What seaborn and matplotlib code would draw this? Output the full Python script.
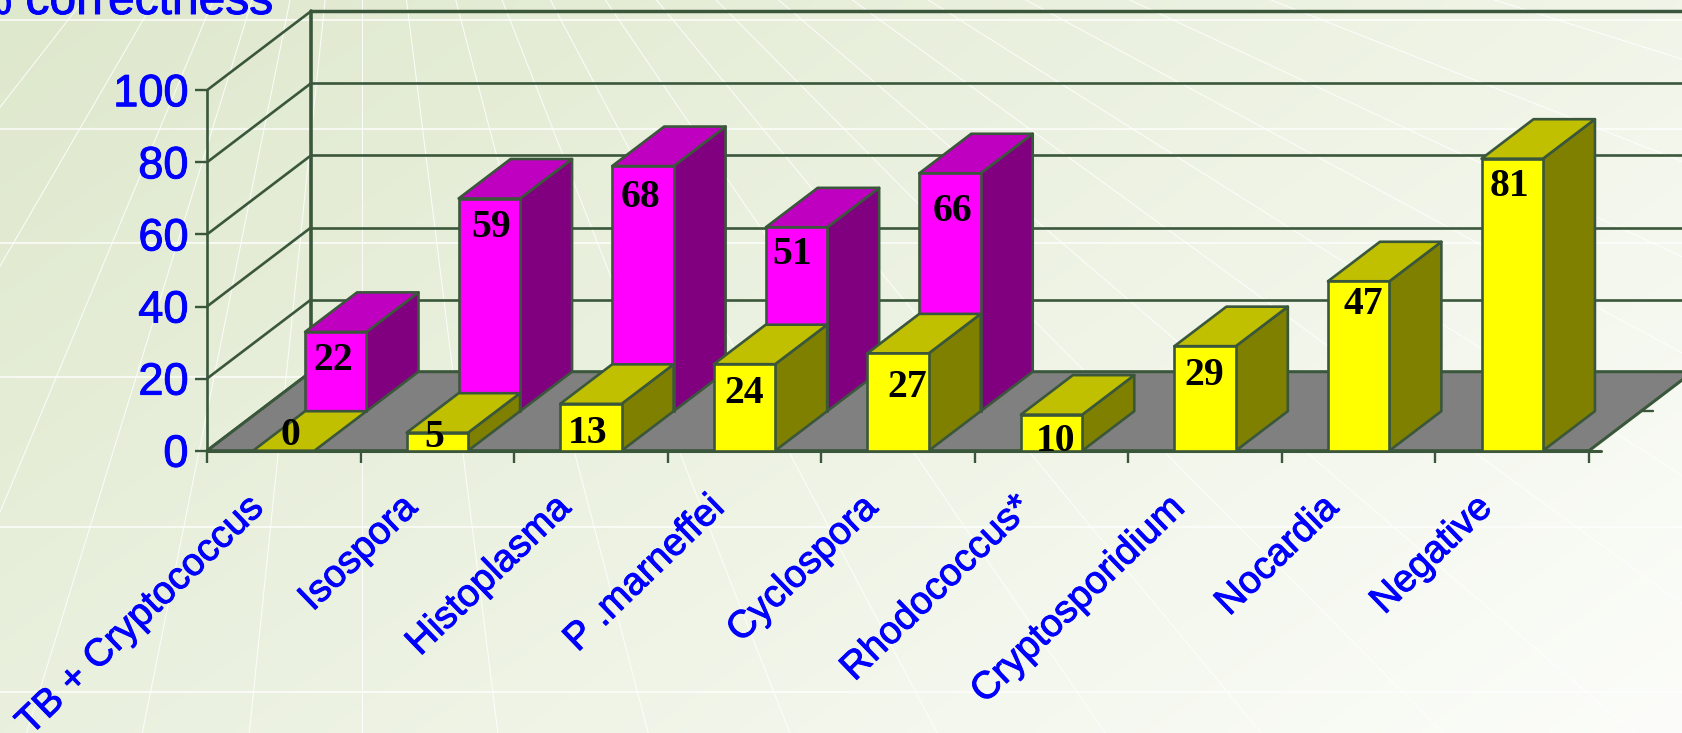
import numpy as np
import pandas as pd
import matplotlib
matplotlib.use("Agg")
import matplotlib.pyplot as plt
from matplotlib.patches import Polygon
from matplotlib.transforms import ScaledTranslation
import matplotlib.patheffects as pe
import seaborn as sns

categories = ["TB + Cryptococcus", "Isospora", "Histoplasma", "P .marneffei", "Cyclospora",
              "Rhodococcus*", "Cryptosporidium", "Nocardia", "Negative"]
yellow_values = [0, 5, 13, 24, 27, 10, 29, 47, 81]
magenta_values = [22, 59, 68, 51, 66]
y_ticks = [0, 20, 40, 60, 80, 100]
y_title = "% correctness"

# label nudges, pixels (right, down from the bar's top-centre)
yellow_nudge = [(7, -15), (-3, 5), (-3, 30), (0, 29), (9, 34), (4, 27), (-1, 29), (5, 23), (-3, 28)]
magenta_nudge = [(-3, 29), (2, 29), (-2, 31), (-4, 27), (2, 38)]

W, H = 1682, 733
LINE = "#3b573b"
BLUE = "#0000ff"
sns.set_theme(style="white")
plt.rcParams["font.family"] = ["Liberation Sans", "DejaVu Sans"]
heavy = [pe.withStroke(linewidth=0.7, foreground=BLUE)]

fig = plt.figure(figsize=(W / 100, H / 100), dpi=100)

# ---------- background: gradient + perspective lines ----------
bg = fig.add_axes([0, 0, 1, 1], zorder=0)
gx, gy = np.meshgrid(np.linspace(0, 1, 300), np.linspace(0, 1, 130))
t = (0.62 * gx + 0.38 * gy)[..., None]
c0, c1 = np.array([222, 232, 204]) / 255, np.array([252, 253, 250]) / 255
bg.imshow(c0 + (c1 - c0) * t, extent=(0, W, H, 0), aspect="auto", interpolation="bilinear")
vx, vy = 362, -357
for off in [-294, -219, -157, -116, -76, -39, 0, 47, 99, 148, 199, 257, 311, 374, 440, 518, 598, 701, 811,
            960, 1196]:
    k = (H + 10 - vy) / (20 - vy)
    bg.plot([vx, vx + off * k], [vy, H + 10], color="white", lw=0.75, alpha=0.85)
for yy in [20, 129, 243, 377, 527, 692]:
    bg.plot([0, W], [yy, yy], color="white", lw=1.2, alpha=0.85)
bg.set_xlim(0, W)
bg.set_ylim(H, 0)
bg.axis("off")

# ---------- main axes ----------
X0, X1, Y0, Y100 = 207, 1589, 450.7, 90.2
ax = fig.add_axes([X0 / W, 1 - Y0 / H, (X1 - X0) / W, (Y0 - Y100) / H], zorder=1)
ax.patch.set_alpha(0)

n = len(categories)
step_px = (X1 - X0) / n
val_px = (Y0 - Y100) / 100
DX = 104 / step_px          # full depth, in category units
DY = 79 / val_px            # full depth, in value units
BW = 0.4
ext = 1.2                   # how far the wall/floor run past the canvas, cat units


def poly(pts, fc, z, lw=1.9):
    ax.add_patch(Polygon(pts, closed=True, facecolor=fc, edgecolor=LINE, lw=lw, zorder=z,
                         clip_on=False, joinstyle="round"))


# back wall and floor
left, right = -0.5, n - 0.5
for v in y_ticks:
    ax.plot([left, left + DX], [v, v + DY], color=LINE, lw=1.9, zorder=1, clip_on=False)
    ax.plot([left + DX, right + ext], [v + DY, v + DY], color=LINE, lw=2.5 if v == 100 else 1.9,
            zorder=1, clip_on=False)
ax.plot([left + DX, left + DX], [DY, 100 + DY], color=LINE, lw=2.6, zorder=1, clip_on=False)
poly([(left, 0), (right, 0), (right + DX, DY), (left + DX, DY)], "#808080", 2, lw=2.2)
ax.plot([right + DX / 2, right + DX / 2 + 0.08], [DY / 2, DY / 2], color=LINE, lw=1.7, zorder=2, clip_on=False)
ax.plot([right, right + 0.08], [0, 0], color=LINE, lw=2.2, zorder=2.6, clip_on=False)


def bars(values, depth, top_c, side_c, front_c, z):
    xs = np.arange(len(values), dtype=float)
    base = depth * DY
    x_shift = depth * DX
    hdx, hdy = DX / 2, DY / 2
    for x, v in zip(xs, values):
        xl, xr = x + x_shift - BW / 2, x + x_shift + BW / 2
        if v > 0:
            poly([(xr, base), (xr + hdx, base + hdy), (xr + hdx, base + hdy + v), (xr, base + v)], side_c, z)
        poly([(xl, base + v), (xr, base + v), (xr + hdx, base + hdy + v), (xl + hdx, base + hdy + v)], top_c, z)
    df = pd.DataFrame({"pos": xs + x_shift, "value": values})
    sns.barplot(data=df, x="pos", y="value", native_scale=True, width=BW, color=front_c, saturation=1,
                edgecolor=LINE, linewidth=1.9, bottom=base, zorder=z + 0.5, ax=ax, clip_on=False)


bars(magenta_values, 0.5, "#c000c0", "#800080", "#ff00ff", 3)
bars(yellow_values, 0.0, "#c0c000", "#808000", "#ffff00", 5)

vfont = dict(family="Liberation Serif", weight="bold", fontsize=28.5, color="black",
             ha="center", va="center", zorder=8, annotation_clip=False)
for i, (v, nd) in enumerate(zip(yellow_values, yellow_nudge)):
    ax.annotate(str(v), xy=(i, v), xytext=(nd[0] * 0.72, -nd[1] * 0.72), textcoords="offset points", **vfont)
for i, (v, nd) in enumerate(zip(magenta_values, magenta_nudge)):
    ax.annotate(str(v), xy=(i + DX / 2, v + DY / 2), xytext=(nd[0] * 0.72, -nd[1] * 0.72),
                textcoords="offset points", **vfont)

# axes furniture
ax.set_xlim(left, right)
ax.set_ylim(0, 100)
for s in ("top", "right"):
    ax.spines[s].set_visible(False)
for s in ("left", "bottom"):
    ax.spines[s].set_color(LINE)
    ax.spines[s].set_zorder(2.6)
ax.spines["left"].set_linewidth(1.9)
ax.spines["bottom"].set_linewidth(2.2)
ax.set_xlabel("")
ax.set_ylabel("")
ax.set_yticks(y_ticks)
ax.set_yticklabels([str(v) for v in y_ticks], fontsize=32.5, color=BLUE, path_effects=heavy)
ax.tick_params(axis="y", left=True, length=8.4, width=1.7, color=LINE, pad=5)
ax.set_xticks(np.arange(n))
ax.set_xticklabels(categories, fontsize=27.7, color=BLUE, rotation=44, ha="right", rotation_mode="anchor",
                   path_effects=heavy)
ax.tick_params(axis="x", which="major", bottom=False, length=0, pad=30)
ax.set_xticks(np.arange(n + 1) - 0.5, minor=True)
ax.tick_params(axis="x", which="minor", bottom=True, length=8.6, width=1.7, color=LINE)
shift = ScaledTranslation(-38 / 100, 3 / 100, fig.dpi_scale_trans)
for lab in ax.get_xticklabels():
    lab.set_transform(lab.get_transform() + shift)

fig.text(273 / W, 1 - 14 / H, y_title, fontsize=34.5, color=BLUE, ha="right", va="baseline", path_effects=heavy)

fig.savefig("out.png", dpi=100)
